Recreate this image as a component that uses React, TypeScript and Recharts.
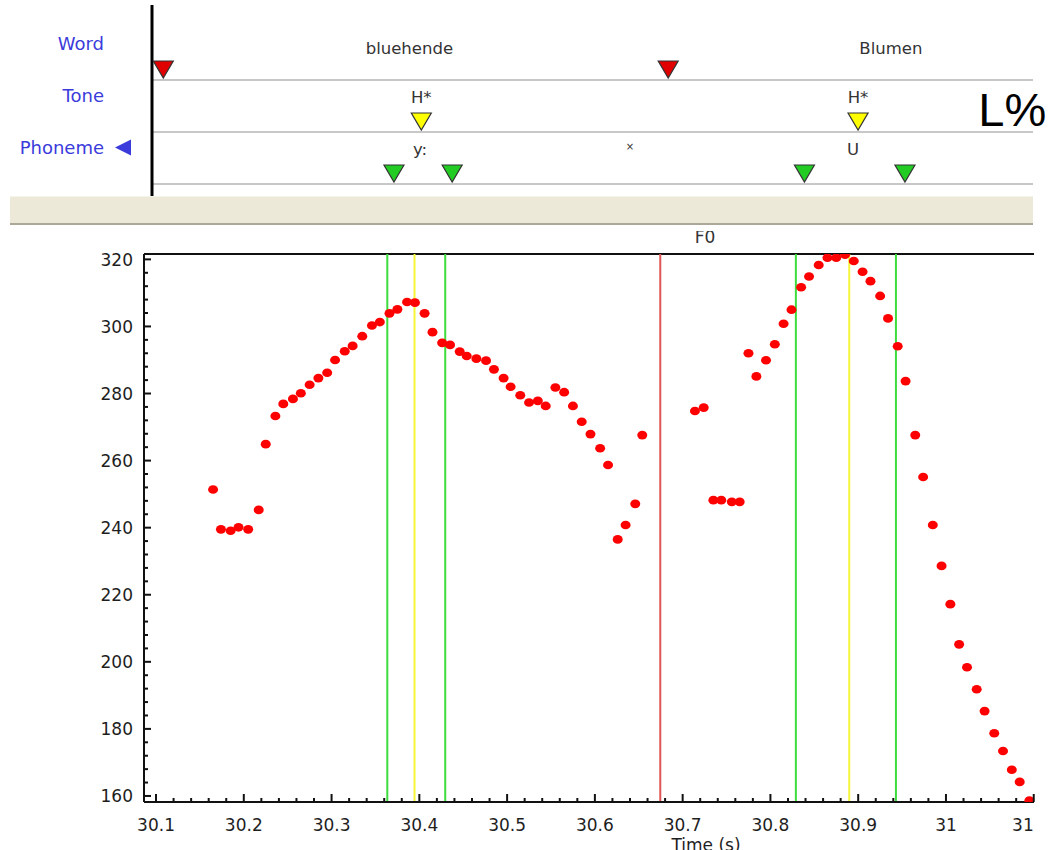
import React from "react";
import { ScatterChart, Scatter, XAxis, YAxis, ReferenceLine } from "recharts";

// F0 track: time (s) and pitch (Hz), one value per analysis frame
const f0Times = [
  30.165, 30.174, 30.185, 30.194, 30.205, 30.217, 30.225, 30.236, 30.245, 30.256,
  30.265, 30.275, 30.285, 30.295, 30.304, 30.315, 30.324, 30.335, 30.346, 30.355,
  30.366, 30.375, 30.386, 30.395, 30.406, 30.415, 30.426, 30.435, 30.446, 30.454,
  30.465, 30.476, 30.485, 30.496, 30.504, 30.515, 30.525, 30.535, 30.544, 30.555,
  30.565, 30.575, 30.585, 30.595, 30.606, 30.615, 30.626, 30.635, 30.646, 30.654,
  30.714, 30.724, 30.735, 30.744, 30.756, 30.765, 30.775, 30.784, 30.795, 30.805,
  30.815, 30.824, 30.835, 30.844, 30.855, 30.865, 30.875, 30.885, 30.895, 30.905,
  30.914, 30.925, 30.934, 30.945, 30.954, 30.965, 30.974, 30.985, 30.995, 31.005,
  31.015, 31.024, 31.035, 31.044, 31.055, 31.065, 31.075, 31.084, 31.095,
];
const f0Values = [
  251.4, 239.5, 239.1, 240.1, 239.5, 245.3, 264.9, 273.3, 276.9, 278.4,
  280.1, 282.6, 284.6, 286.2, 290.0, 292.6, 294.2, 297.1, 300.3, 301.3,
  303.9, 305.1, 307.3, 307.1, 303.9, 298.3, 295.1, 294.5, 292.5, 291.2,
  290.4, 289.8, 287.2, 284.6, 282.0, 279.5, 277.3, 277.8, 276.3, 281.8,
  280.4, 276.3, 271.6, 267.9, 263.7, 258.7, 236.5, 240.8, 247.1, 267.6,
  274.8, 275.8, 248.2, 248.2, 247.7, 247.7, 292.0, 285.1, 289.9, 294.7,
  300.8, 305.0, 311.7, 314.9, 318.3, 320.5, 320.5, 321.4, 319.5, 316.3,
  313.5, 309.1, 302.4, 294.1, 283.7, 267.6, 255.1, 240.8, 228.6, 217.2,
  205.2, 198.4, 191.8, 185.3, 178.7, 173.4, 167.8, 164.2, 158.6,
];

// annotation tiers
const tiers = ["Word", "Tone", "Phoneme"];
const wordBounds = [30.1019, 30.6745];
const words = ["bluehende", "Blumen"];
const wordLabelTimes = [30.381, 30.927];
const toneTimes = [30.3945, 30.8898];
const tones = ["H*", "H*"];
const boundaryTone = "L%";
const boundaryToneTime = 31.0262;
const phonemeBounds = [30.3635, 30.4295, 30.829, 30.943];
const phonemes = ["y:", "×", "U"];
const phonemeLabelTimes = [30.393, 30.6312, 30.884];

// axes
const yMajorTicks = [160, 180, 200, 220, 240, 260, 280, 300, 320];
const xMajorTicks = [30.1, 30.2, 30.3, 30.4, 30.5, 30.6, 30.7, 30.8, 30.9, 31.0, 31.1];
const xTickLabels = ["30.1", "30.2", "30.3", "30.4", "30.5", "30.6", "30.7", "30.8", "30.9", "31", "31"];

const yMinorTicks: number[] = [];
for (let v = 160; v <= 320; v += 4) yMinorTicks.push(v);
const xMinorTicks: number[] = [];
for (let k = 0; k <= 50; k++) xMinorTicks.push(Math.round((30.1 + 0.02 * k) * 1000) / 1000);

const FONT = '"DejaVu Sans", Verdana, sans-serif';
const ARIAL = '"Liberation Sans", Arial, sans-serif';

const f0Data = f0Times.map((t, i) => ({ t, f: f0Values[i] }));

const YTick = (props: any) => {
  const { x, y, payload } = props;
  const v = payload.value;
  const major = yMajorTicks.includes(v);
  return (
    <g>
      <line x1={x} x2={x + (major ? 7 : 4)} y1={y} y2={y} stroke="#111" strokeWidth={2} />
      {major && (
        <text x={x - 11} y={y + 6.5} textAnchor="end" fontSize={17} fill="#1e1e1e" fontFamily={FONT}>
          {v}
        </text>
      )}
    </g>
  );
};

const XTick = (props: any) => {
  const { x, y, payload } = props;
  const i = xMajorTicks.findIndex((t) => Math.abs(t - payload.value) < 1e-6);
  const major = i >= 0;
  const last = i === xMajorTicks.length - 1;
  return (
    <g>
      <line x1={x} x2={x} y1={y} y2={y - (major ? 8 : 4)} stroke="#111" strokeWidth={2} />
      {major && (
        <text x={x} y={y + 29} textAnchor={last ? "end" : "middle"} fontSize={17} fill="#1e1e1e" fontFamily={FONT}>
          {xTickLabels[i]}
        </text>
      )}
    </g>
  );
};

const TierTick = (props: any) => {
  const { x, y, index } = props;
  return (
    <g>
      <text x={x - 48} y={y} textAnchor="end" dominantBaseline="central" fontSize={18} fill="#3b3bdc" fontFamily={FONT}>
        {tiers[index]}
      </text>
      {index === 2 && <polygon points={`${x - 21},${y - 8} ${x - 21},${y + 8} ${x - 37},${y}`} fill="#3b3bdc" />}
    </g>
  );
};

const triangle = (fill: string) => (p: any) => (
  <polygon
    points={`${p.cx - 10},${p.cy - 19} ${p.cx + 10},${p.cy - 19} ${p.cx},${p.cy - 2}`}
    fill={fill}
    stroke="#333"
    strokeWidth={1.2}
  />
);

const label = (p: any) => {
  const d = p.payload ?? p;
  const small = d.text === "×";
  return (
    <text
      x={p.cx}
      y={small ? p.cy - 3 : p.cy}
      textAnchor="middle"
      dominantBaseline="central"
      fontSize={small ? 10 : 16.5}
      fill="#333"
      fontFamily={FONT}
    >
      {d.text}
    </text>
  );
};

const bigLabel = (p: any) => {
  const d = p.payload ?? p;
  return (
    <text x={p.cx} y={p.cy} textAnchor="start" fontSize={47} fill="#000" fontFamily={ARIAL}>
      {d.text}
    </text>
  );
};

export default function App() {
  // label positions inside each tier (tier k spans k..k+1, its bottom line is at k+1)
  const wordLabels = words.map((text, i) => ({ t: wordLabelTimes[i], y: 0.385, text }));
  const toneLabels = tones.map((text, i) => ({ t: toneTimes[i], y: 1.333, text }));
  const phonemeLabels = phonemes.map((text, i) => ({ t: phonemeLabelTimes[i], y: 2.327, text }));

  return (
    <div style={{ position: "absolute", left: 0, top: 0, width: 1057, height: 850, overflow: "hidden", background: "#fff" }}>
      {/* F0 plot */}
      <div style={{ position: "absolute", left: 0, top: 0 }}>
        <ScatterChart width={1057} height={880} margin={{ top: 254, right: 23, bottom: 18, left: 104 }}>
          <XAxis
            type="number"
            dataKey="t"
            domain={[30.0863, 31.1003]}
            allowDataOverflow
            ticks={xMinorTicks}
            interval={0}
            tick={<XTick />}
            tickSize={0}
            tickMargin={0}
            tickLine={false}
            axisLine={{ stroke: "#111", strokeWidth: 2 }}
            height={60}
          />
          <YAxis
            type="number"
            dataKey="f"
            domain={[158.2, 321.6]}
            allowDataOverflow
            ticks={yMinorTicks}
            interval={0}
            tick={<YTick />}
            tickSize={0}
            tickMargin={0}
            tickLine={false}
            axisLine={{ stroke: "#111", strokeWidth: 2 }}
            width={40}
          />
          <ReferenceLine y={321.6} stroke="#111" strokeWidth={2} />
          {phonemeBounds.map((t) => (
            <ReferenceLine key={"p" + t} x={t} stroke="#3ddc3d" strokeWidth={2} />
          ))}
          {toneTimes.map((t) => (
            <ReferenceLine key={"t" + t} x={t} stroke="#f5f53a" strokeWidth={2} />
          ))}
          {wordBounds.slice(1).map((t) => (
            <ReferenceLine key={"w" + t} x={t} stroke="#e05555" strokeWidth={2} />
          ))}
          <Scatter
            data={f0Data}
            isAnimationActive={false}
            shape={(p: any) => <ellipse cx={p.cx} cy={p.cy} rx={5} ry={4.3} fill="#ff0000" />}
          />
        </ScatterChart>
      </div>

      {/* x axis title, cut by the bottom of the window */}
      <div style={{ position: "absolute", left: 0, top: 832, width: 1057, height: 18, overflow: "hidden" }}>
        <svg width={1057} height={30}>
          <text x={706} y={19} textAnchor="middle" fontSize={17} fill="#1e1e1e" fontFamily={FONT}>
            Time (s)
          </text>
        </svg>
      </div>

      {/* toolbar band */}
      <div
        style={{
          position: "absolute",
          left: 10,
          top: 196,
          width: 1023,
          height: 26,
          background: "#ece9d8",
          borderTop: "1px solid #f4f3ec",
          borderBottom: "2px solid #aca899",
        }}
      />

      {/* F0 title, partly hidden under the band */}
      <div style={{ position: "absolute", left: 0, top: 231, width: 1057, height: 15, overflow: "hidden" }}>
        <svg width={1057} height={15}>
          <text x={705} y={12.3} textAnchor="middle" fontSize={17} fill="#333" fontFamily={FONT}>
            F0
          </text>
        </svg>
      </div>

      {/* annotation tiers */}
      <div style={{ position: "absolute", left: 0, top: 0 }}>
        <ScatterChart width={1057} height={200} margin={{ top: 5, right: 24, bottom: 4, left: 0 }}>
          <XAxis
            type="number"
            dataKey="t"
            domain={[30.0891, 31.0882]}
            tick={false}
            tickLine={false}
            axisLine={{ stroke: "#000", strokeWidth: 3 }}
            height={0}
          />
          <YAxis
            type="number"
            dataKey="y"
            domain={[-0.4423, 3.2308]}
            reversed
            ticks={tiers.map((_, i) => i + 0.3)}
            interval={0}
            tick={<TierTick />}
            tickSize={0}
            tickMargin={0}
            tickLine={false}
            axisLine={{ stroke: "#000", strokeWidth: 3 }}
            width={152}
          />
          {tiers.map((name, i) => (
            <ReferenceLine key={name} y={i + 1} stroke="#c8c8c8" strokeWidth={2} />
          ))}
          <Scatter data={wordLabels} isAnimationActive={false} shape={label} />
          <Scatter data={toneLabels} isAnimationActive={false} shape={label} />
          <Scatter data={phonemeLabels} isAnimationActive={false} shape={label} />
          <Scatter
            data={[{ t: boundaryToneTime, y: 1.885, text: boundaryTone }]}
            isAnimationActive={false}
            shape={bigLabel}
          />
          <Scatter data={wordBounds.map((t) => ({ t, y: 1 }))} isAnimationActive={false} shape={triangle("#e00000")} />
          <Scatter data={toneTimes.map((t) => ({ t, y: 2 }))} isAnimationActive={false} shape={triangle("#ffff00")} />
          <Scatter data={phonemeBounds.map((t) => ({ t, y: 3 }))} isAnimationActive={false} shape={triangle("#22cc22")} />
        </ScatterChart>
      </div>
    </div>
  );
}
